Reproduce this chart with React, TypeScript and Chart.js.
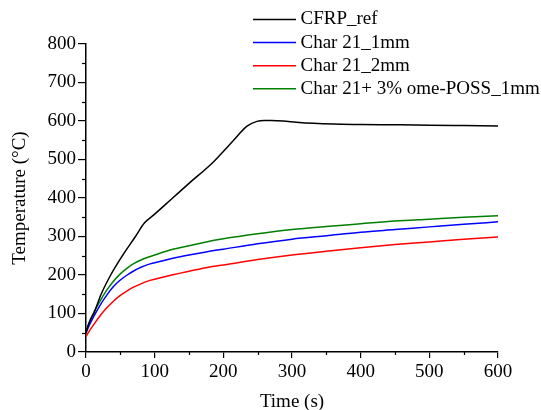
import React, { useEffect, useRef } from "react";
import { Chart, registerables } from "chart.js";

Chart.register(...registerables);

// ---- data ----
const cfrpTimes = [0, 2, 5, 12, 22, 36, 53, 72, 85, 100, 125, 150, 184, 200, 215, 234, 249, 260, 270, 287, 306, 331, 360, 400, 457, 500, 550, 600];
const cfrpRef = [48, 62, 78, 103, 150, 200, 250, 300, 335, 358, 398, 438, 491, 521, 550, 586, 599, 601, 601, 600, 597, 594, 592, 591, 590, 589, 588, 587];

const charTimes = [0, 5, 10, 20, 30, 40, 50, 60, 70, 80, 90, 100, 125, 150, 175, 200, 250, 300, 350, 400, 450, 500, 550, 600];
const char21_1mm = [50, 70, 88, 120, 147, 170, 187, 200, 211, 220, 227, 232, 243, 252, 260, 267, 281, 293, 302, 311, 318, 325, 332, 338];
const char21_2mm = [40, 55, 68, 93, 114, 132, 147, 159, 169, 177, 184, 189, 200, 210, 219, 226, 240, 252, 262, 271, 279, 286, 293, 299];
const char21Poss_1mm = [55, 78, 98, 131, 160, 184, 203, 218, 230, 239, 246, 252, 266, 276, 286, 294, 307, 318, 326, 333, 340, 345, 350, 354];

const seriesLabels = ["CFRP_ref", "Char 21_1mm", "Char 21_2mm", "Char 21+ 3% ome-POSS_1mm"];
const seriesColors = ["#000000", "#0000ff", "#ff0000", "#008000"];

const xTitle = "Time (s)";
const yTitle = "Temperature (\u00B0C)";

const FONT = "'Liberation Serif', 'Times New Roman', serif";

function pts(xs: number[], ys: number[]) {
  return xs.map((x, i) => ({ x, y: ys[i] }));
}

const minorTicks = {
  id: "minorTicks",
  afterDraw(chart: any) {
    const ctx = chart.ctx;
    const xs = chart.scales.x;
    const ys = chart.scales.y;
    ctx.save();
    ctx.strokeStyle = "#000";
    ctx.lineWidth = 1.2;
    for (let v = 50; v < 800; v += 100) {
      const py = Math.round(ys.getPixelForValue(v)) + 0.5;
      ctx.beginPath();
      ctx.moveTo(xs.left - 4, py);
      ctx.lineTo(xs.left, py);
      ctx.stroke();
    }
    for (let v = 50; v < 600; v += 100) {
      const px = Math.round(xs.getPixelForValue(v)) + 0.5;
      ctx.beginPath();
      ctx.moveTo(px, ys.bottom);
      ctx.lineTo(px, ys.bottom + 3);
      ctx.stroke();
    }
    ctx.restore();
  },
};

const customLegend = {
  id: "customLegend",
  afterDraw(chart: any) {
    const ctx = chart.ctx;
    ctx.save();
    ctx.font = `19px ${FONT}`;
    ctx.textBaseline = "middle";
    ctx.textAlign = "left";
    const x0 = 253;
    const x1 = 296;
    const y0 = 19.5;
    const dy = 23.1;
    chart.data.datasets.forEach((ds: any, i: number) => {
      const y = y0 + i * dy;
      ctx.strokeStyle = ds.borderColor;
      ctx.lineWidth = 1.5;
      ctx.beginPath();
      ctx.moveTo(x0, y);
      ctx.lineTo(x1, y);
      ctx.stroke();
      ctx.fillStyle = "#000";
      ctx.fillText(ds.label, 300.5, y);
    });
    ctx.restore();
  },
};

export default function App() {
  const ref = useRef<HTMLCanvasElement | null>(null);

  useEffect(() => {
    if (!ref.current) return;
    const datasets = [
      pts(cfrpTimes, cfrpRef),
      pts(charTimes, char21_1mm),
      pts(charTimes, char21_2mm),
      pts(charTimes, char21Poss_1mm),
    ].map((data, i) => ({
      label: seriesLabels[i],
      data,
      borderColor: seriesColors[i],
      backgroundColor: seriesColors[i],
      borderWidth: 1.5,
      pointRadius: 0,
      fill: false,
      cubicInterpolationMode: "monotone" as const,
    }));

    const chart = new Chart(ref.current, {
      type: "line",
      data: { datasets },
      plugins: [minorTicks, customLegend],
      options: {
        animation: false,
        responsive: false,
        devicePixelRatio: 1,
        layout: { padding: { left: 0, top: 44, right: 43, bottom: 0 } },
        plugins: {
          legend: { display: false },
          tooltip: { enabled: false },
        },
        scales: {
          x: {
            type: "linear",
            min: 0,
            max: 600,
            afterFit(scale: any) {
              scale.height = 58;
            },
            ticks: {
              stepSize: 100,
              color: "#000",
              font: { family: FONT, size: 19 },
              padding: 3,
              maxRotation: 0,
            },
            grid: {
              display: true,
              drawOnChartArea: false,
              drawTicks: true,
              tickLength: 6,
              color: "#000",
              lineWidth: 1.2,
            },
            border: { display: true, color: "#000", width: 1.5 },
            title: {
              display: true,
              text: xTitle,
              color: "#000",
              font: { family: FONT, size: 19, lineHeight: 1 },
              padding: { top: 0, bottom: -2 },
            },
          },
          y: {
            type: "linear",
            min: 0,
            max: 800,
            afterFit(scale: any) {
              scale.width = 86;
            },
            ticks: {
              stepSize: 100,
              color: "#000",
              font: { family: FONT, size: 19 },
              padding: 2,
            },
            grid: {
              display: true,
              drawOnChartArea: false,
              drawTicks: true,
              tickLength: 8,
              color: "#000",
              lineWidth: 1.2,
            },
            border: { display: true, color: "#000", width: 1.5 },
            title: {
              display: true,
              text: yTitle,
              color: "#000",
              font: { family: FONT, size: 19, lineHeight: 1 },
              padding: { top: 11, bottom: 0 },
            },
          },
        },
      },
    });
    return () => chart.destroy();
  }, []);

  return (
    <div style={{ position: "absolute", left: 0, top: 0, width: 541, height: 410, background: "#fff" }}>
      <canvas ref={ref} width={541} height={410} style={{ display: "block" }} />
    </div>
  );
}
